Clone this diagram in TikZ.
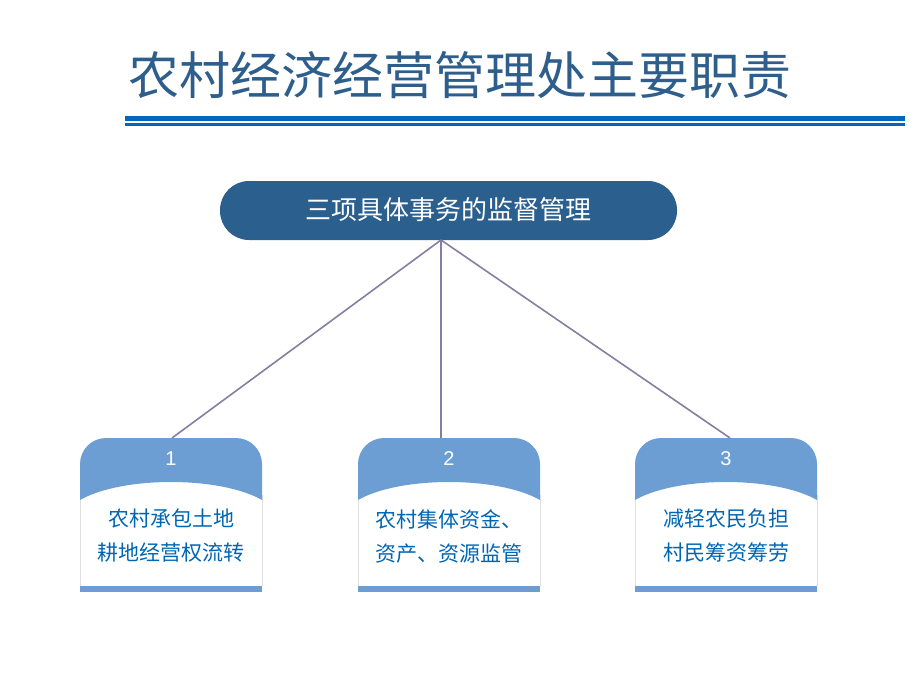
\documentclass[tikz,border=0pt]{standalone}
\usepackage{fontspec}
\newfontfamily\cjk{Noto Sans CJK SC}
\newfontfamily\lat{Liberation Sans}
\definecolor{titleblue}{RGB}{46,94,140}
\definecolor{rulebl}{RGB}{0,102,190}
\definecolor{pill}{RGB}{43,95,142}
\definecolor{head}{RGB}{108,158,212}
\definecolor{txtbl}{RGB}{0,102,180}
\definecolor{linkc}{RGB}{130,128,160}
\tikzset{
  link/.style={draw=linkc,line width=1.6pt},
  itemtext/.style={text=txtbl,font=\cjk\fontsize{21}{34}\selectfont,align=center},
}
\begin{document}
\begin{tikzpicture}[x=1pt,y=-1pt]
\useasboundingbox (0,0) rectangle (920,690);
% title
\node (title) at (460,75) {\cjk\fontsize{51}{55}\selectfont\color{titleblue}农村经济经营管理处主要职责};
\fill[rulebl] (125,116.5) rectangle (905,121.5);
\fill[rulebl] (125,123.5) rectangle (905,125.5);
% top pill
\fill[pill] (220,181) [rounded corners=29pt] rectangle (677,240);
\node[text=white,font=\cjk\fontsize{26}{30}\selectfont] (top) at (448,210) {三项具体事务的监督管理};
\coordinate (hub) at (441,240);
% boxes
\foreach \x/\n/\txt in {80/1/{农村承包土地\\耕地经营权流转},358/2/{农村集体资金、\\资产、资源监管},635/3/{减轻农民负担\\村民筹资筹劳}}{
  \fill[white] (\x,495) rectangle (\x+182,586);
  \draw[gray!25] (\x,495) -- (\x,586) (\x+182,495) -- (\x+182,586);
  \fill[head] (\x,500) -- (\x,465) [rounded corners=26pt] -- (\x,438) -- (\x+182,438) [sharp corners] -- (\x+182,465) -- (\x+182,500)
    .. controls (\x+140,476) and (\x+42,476) .. (\x,500) -- cycle;
  \fill[head] (\x,586) rectangle (\x+182,592);
  \node[text=white,font=\lat\fontsize{20}{22}\selectfont] (num\n) at (\x+91,459) {\n};
  \node[itemtext] (item\n) at (\x+91,536) {\txt};
}
\coordinate (end1) at (172,438);
\coordinate (end2) at (441,438);
\coordinate (end3) at (730,438);
\foreach \n in {1,2,3}{\draw[link] (hub) -- (end\n);}
\end{tikzpicture}
\end{document}
